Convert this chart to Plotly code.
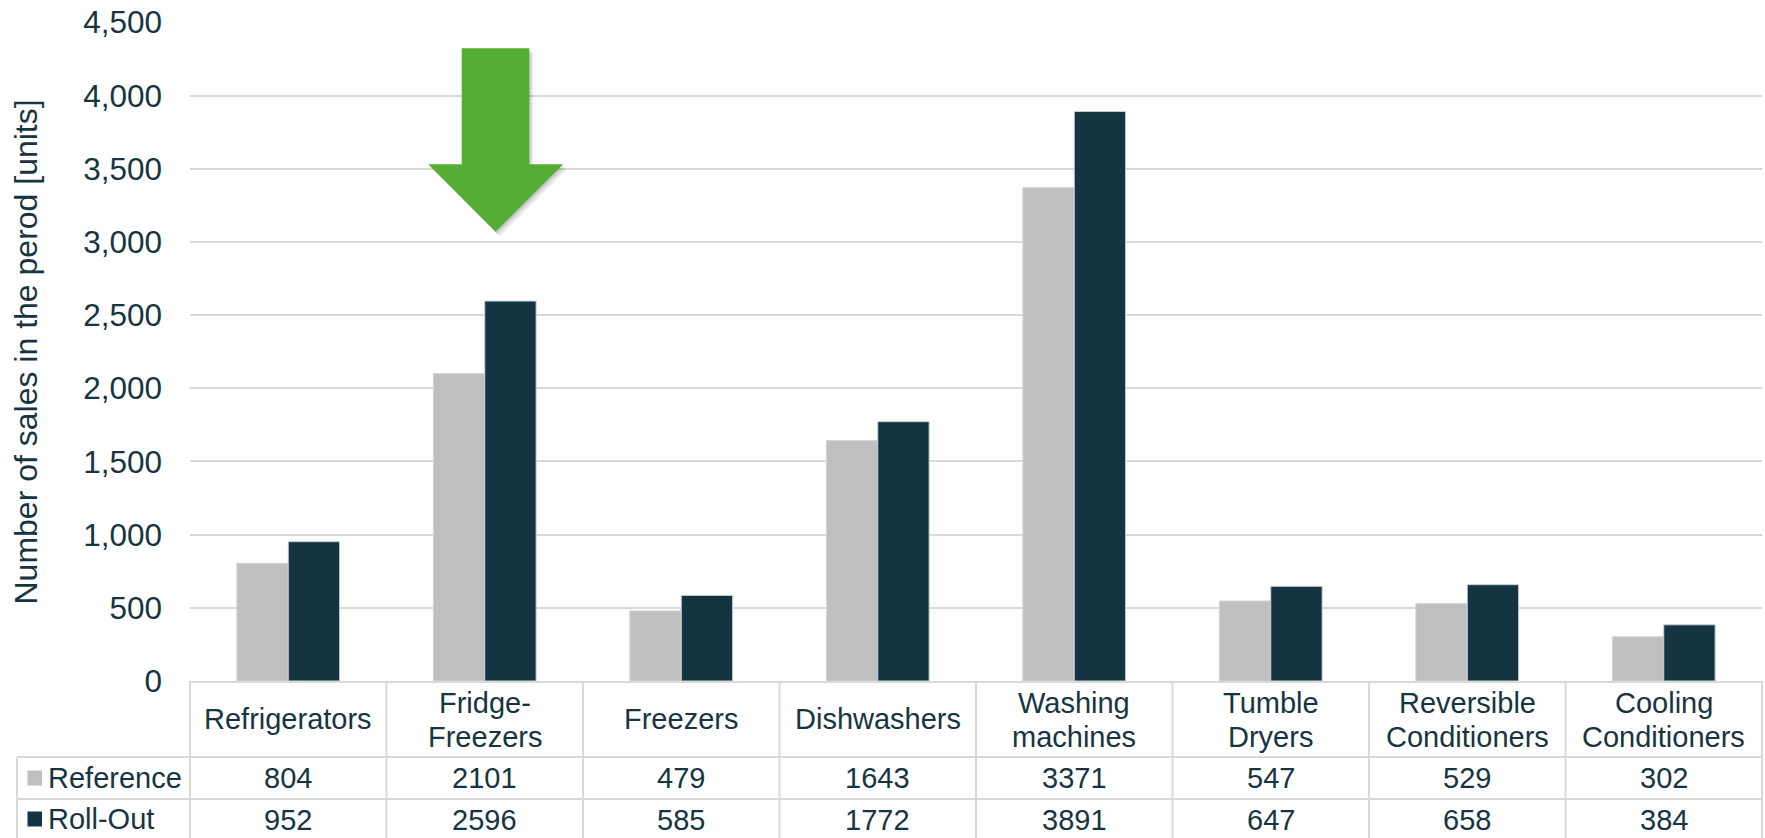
import plotly.graph_objects as go

# ---- data ----
categories = ["Refrigerators", "Fridge-<br>Freezers", "Freezers", "Dishwashers",
              "Washing<br>machines", "Tumble<br>Dryers", "Reversible<br>Conditioners",
              "Cooling<br>Conditioners"]
series_names = ["Reference", "Roll-Out"]
reference_sales = [804, 2101, 479, 1643, 3371, 547, 529, 302]
rollout_sales = [952, 2596, 585, 1772, 3891, 647, 658, 384]
y_tick_values = [0, 500, 1000, 1500, 2000, 2500, 3000, 3500, 4000, 4500]

# ---- style ----
W, H = 1765, 838
FONT = "Liberation Sans, Arial, sans-serif"
TEXT = "#173541"
GRID = "#D9D9D9"
REF_COLOR = "#BFBFBF"
ROLL_COLOR = "#153441"
ARROW_COLOR = "#55AE33"

# plot area in pixels
X0, X1 = 190, 1762
Y_TOP, Y_ZERO = 22.4, 681
ROW_HEADER_BOTTOM = 757
ROW_REF_BOTTOM = 799
LEGEND_LEFT = 17


def px(x):
    return x / W


def py(y):
    return 1 - y / H


fig = go.Figure()
fig.add_trace(go.Bar(x=categories, y=reference_sales, name=series_names[0],
                     marker=dict(color=REF_COLOR, line=dict(color="#D4D4D4", width=1))))
fig.add_trace(go.Bar(x=categories, y=rollout_sales, name=series_names[1],
                     marker=dict(color=ROLL_COLOR, line=dict(color="#C8D0D4", width=1))))

shapes = []
annotations = []


def hline(x_a, x_b, y):
    shapes.append(dict(type="line", xref="paper", yref="paper",
                       x0=px(x_a), x1=px(x_b), y0=py(y), y1=py(y),
                       line=dict(color=GRID, width=2), layer="above"))


def vline(x, y_a, y_b):
    shapes.append(dict(type="line", xref="paper", yref="paper",
                       x0=px(x), x1=px(x), y0=py(y_a), y1=py(y_b),
                       line=dict(color=GRID, width=2), layer="above"))


# data table grid below the axis
n = len(categories)
col_w = (X1 - X0) / n
hline(LEGEND_LEFT, X1, ROW_HEADER_BOTTOM)
hline(LEGEND_LEFT, X1, ROW_REF_BOTTOM)
for k in range(n + 1):
    vline(X0 + k * col_w, Y_ZERO, H + 5)
vline(LEGEND_LEFT, ROW_HEADER_BOTTOM, H + 5)

# category headers and value cells
for i, cat in enumerate(categories):
    lines = cat.split("<br>")
    cx = px(X0 + (i + 0.5) * col_w)
    if len(lines) == 1:
        ys = [719]
    else:
        ys = [703, 737]
    for line, yy in zip(lines, ys):
        annotations.append(dict(x=cx, y=py(yy), xref="paper", yref="paper", text=line,
                                showarrow=False, xanchor="center", yanchor="middle",
                                font=dict(family=FONT, size=29, color=TEXT)))
    for val, yy in ((reference_sales[i], 778), (rollout_sales[i], 820)):
        annotations.append(dict(x=cx, y=py(yy), xref="paper", yref="paper", text=str(val),
                                showarrow=False, xanchor="center", yanchor="middle",
                                font=dict(family=FONT, size=29, color=TEXT)))

# legend column of the table
for name, color, yy in ((series_names[0], REF_COLOR, 778), (series_names[1], ROLL_COLOR, 819)):
    shapes.append(dict(type="rect", xref="paper", yref="paper",
                       x0=px(27.5), x1=px(42), y0=py(yy - 7.5), y1=py(yy + 7.5),
                       fillcolor=color, line=dict(width=0), layer="above"))
    annotations.append(dict(x=px(46), y=py(yy), xref="paper", yref="paper", text=name,
                            showarrow=False, xanchor="left", yanchor="middle",
                            font=dict(family=FONT, size=29, color=TEXT)))

# y-axis title
annotations.append(dict(x=px(25), y=py(352.5), xref="paper", yref="paper",
                        text="Number of sales in the perod [units]", textangle=-90,
                        showarrow=False, xanchor="center", yanchor="middle",
                        font=dict(family=FONT, size=32, color=TEXT)))

# green down arrow over Fridge-Freezers
arrow_pts = [(461.7, 48.3), (529.3, 48.3), (529.3, 164.3), (563.3, 164.3),
             (495.7, 231.7), (428.3, 164.3), (461.7, 164.3)]


def arrow_path(dx=0.0, dy=0.0):
    return "M " + " L ".join(f"{px(x + dx):.5f},{py(y + dy):.5f}" for x, y in arrow_pts) + " Z"


for (dx, dy, op) in ((4, 5, 0.05), (3, 3.5, 0.07), (1.5, 2, 0.09)):
    shapes.append(dict(type="path", xref="paper", yref="paper", path=arrow_path(dx, dy),
                       fillcolor=f"rgba(0,0,0,{op})", line=dict(width=0), layer="above"))
shapes.append(dict(type="path", xref="paper", yref="paper", path=arrow_path(),
                   fillcolor=ARROW_COLOR, line=dict(width=0), layer="above"))

fig.update_layout(
    width=W, height=H,
    margin=dict(l=0, r=0, t=0, b=0, autoexpand=False),
    paper_bgcolor="white", plot_bgcolor="white",
    barmode="group", bargap=0.477, bargroupgap=0,
    showlegend=False,
    font=dict(family=FONT, color=TEXT),
    shapes=shapes, annotations=annotations,
    xaxis=dict(domain=[px(X0), px(X1)], showticklabels=False, ticks="", automargin=False,
               showgrid=False, zeroline=False, showline=True, linecolor=GRID, linewidth=2,
               range=[-0.5, n - 0.5], fixedrange=True),
    yaxis=dict(domain=[py(Y_ZERO), py(Y_TOP)], range=[0, 4500], automargin=False,
               tickvals=y_tick_values, tickformat=",",
               tickfont=dict(family=FONT, size=31.5, color=TEXT),
               showgrid=True, gridcolor=GRID, gridwidth=2, zeroline=False,
               showline=False, ticks="", ticklabelstandoff=27, fixedrange=True),
)

fig.write_html("out.html")
